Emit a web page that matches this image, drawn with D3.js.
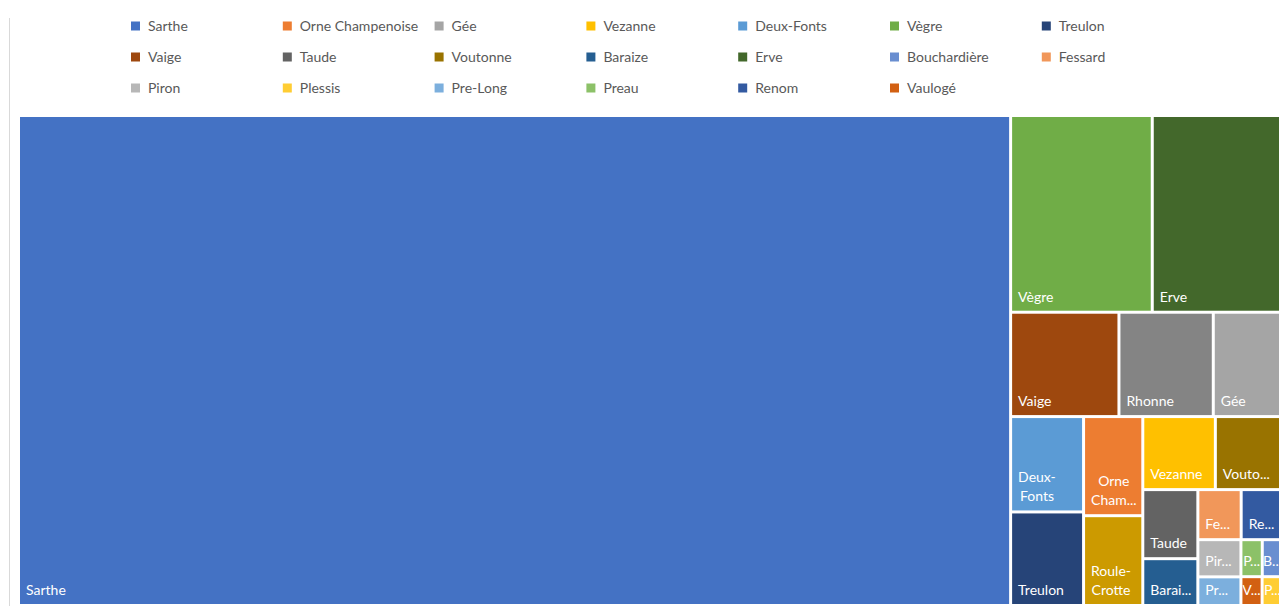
<!DOCTYPE html>
<html>
<head>
<meta charset="utf-8">
<script src="https://cdn.jsdelivr.net/npm/d3@7"></script>
<style>
  html, body { margin: 0; padding: 0; background: #ffffff; overflow: hidden; }
  svg { display: block; font-family: Lato, "Open Sans", sans-serif; }
</style>
</head>
<body>
<svg id="chart" width="1279" height="606"></svg>
<script>
// River basins and their sizes
const categories = ["Sarthe", "Orne Champenoise", "Gée", "Vezanne", "Deux-Fonts", "Vègre", "Treulon",
  "Vaige", "Taude", "Voutonne", "Baraize", "Erve", "Bouchardière", "Fessard", "Piron", "Plessis",
  "Pre-Long", "Preau", "Renom", "Vaulogé", "Rhonne", "Roule-Crotte"];
const values = [4861.78, 58.71, 72.56, 53.00, 69.57, 278.67, 68.26,
  113.07, 38.03, 49.26, 25.78, 256.82, 7.60, 21.69, 16.02, 5.97,
  12.34, 7.90, 20.84, 6.10, 98.45, 53.20];
const colors = ["#4472C4", "#ED7D31", "#A5A5A5", "#FFC000", "#5B9BD5", "#70AD47", "#264478",
  "#9E480E", "#636363", "#997300", "#255E91", "#43682B", "#698ED0", "#F1975A", "#B7B7B7", "#FFCD33",
  "#7CAFDD", "#8CC168", "#335AA1", "#D26012", "#848484", "#CC9A00"];
const legendItems = ["Sarthe", "Orne Champenoise", "Gée", "Vezanne", "Deux-Fonts", "Vègre", "Treulon",
  "Vaige", "Taude", "Voutonne", "Baraize", "Erve", "Bouchardière", "Fessard",
  "Piron", "Plessis", "Pre-Long", "Preau", "Renom", "Vaulogé"];

const svg = d3.select("#chart");
const color = d3.scaleOrdinal().domain(categories).range(colors);

// Chart frame edge
svg.append("line")
  .attr("x1", 9.5).attr("x2", 9.5).attr("y1", 18).attr("y2", 606)
  .attr("stroke", "#d9d9d9").attr("stroke-width", 1);

// Legend: 7 columns
const legendCols = 7, colW = 151.8, rowH = 31;
const legend = svg.append("g").attr("transform", "translate(131,26)");
const li = legend.selectAll("g").data(legendItems).join("g")
  .attr("transform", (d, i) => `translate(${(i % legendCols) * colW},${Math.floor(i / legendCols) * rowH})`);
li.append("rect").attr("x", 0).attr("y", -4.5).attr("width", 9).attr("height", 9)
  .attr("fill", d => color(d));
li.append("text").attr("x", 17).attr("dy", "0.35em")
  .attr("font-size", 14).attr("fill", "#595959").text(d => d);

// Squarified tiling with an adjustable target aspect ratio
function squarify(ratio) {
  return function (parent, x0, y0, x1, y1) {
    const nodes = parent.children, n = nodes.length;
    let value = parent.value, i0 = 0, i1 = 0;
    while (i0 < n) {
      const dx = x1 - x0, dy = y1 - y0;
      let sumValue;
      do sumValue = nodes[i1++].value; while (!sumValue && i1 < n);
      let minValue = sumValue, maxValue = sumValue;
      const alpha = Math.max(dy / dx, dx / dy) / (value * ratio);
      let beta = sumValue * sumValue * alpha;
      let minRatio = Math.max(maxValue / beta, beta / minValue);
      for (; i1 < n; ++i1) {
        const v = nodes[i1].value;
        sumValue += v;
        if (v < minValue) minValue = v;
        if (v > maxValue) maxValue = v;
        beta = sumValue * sumValue * alpha;
        const newRatio = Math.max(maxValue / beta, beta / minValue);
        if (newRatio > minRatio) { sumValue -= v; break; }
        minRatio = newRatio;
      }
      const row = { value: sumValue, children: nodes.slice(i0, i1) };
      if (dx < dy) d3.treemapDice(row, x0, y0, x1, value ? (y0 += dy * sumValue / value) : y1);
      else d3.treemapSlice(row, x0, y0, value ? (x0 += dx * sumValue / value) : x1, y1);
      value -= sumValue;
      i0 = i1;
    }
  };
}

const root = d3.hierarchy({ children: categories.map((name, i) => ({ name, value: values[i] })) })
  .sum(d => d.value || 0)
  .sort((a, b) => b.value - a.value);

d3.treemap()
  .tile(squarify(0.912))
  .size([1261.3, 487])
  .paddingInner(3)
  .paddingOuter(0)(root);

const plot = svg.append("g").attr("transform", "translate(20,117)");
const leaves = root.leaves();

const cell = plot.selectAll("g.cell").data(leaves).join("g").attr("class", "cell");
cell.append("clipPath").attr("id", (d, i) => "clip-" + i)
  .append("rect")
  .attr("x", d => d.x0).attr("y", d => d.y0)
  .attr("width", d => d.x1 - d.x0).attr("height", d => d.y1 - d.y0);
cell.append("rect")
  .attr("x", d => d.x0).attr("y", d => d.y0)
  .attr("width", d => d.x1 - d.x0).attr("height", d => d.y1 - d.y0)
  .attr("fill", d => color(d.data.name));

// Labels: bottom-left, wrapped at spaces/hyphens, truncated with "..."
const fontSize = 14, padX = 6, padRight = 3.8, padBottom = 9, lineH = 19;
const meas = svg.append("text").attr("font-size", fontSize).attr("visibility", "hidden");
const measure = s => { meas.text(s); return meas.node().getComputedTextLength(); };
const fit = (s, avail) => {
  if (measure(s) <= avail) return s;
  for (let k = s.length - 1; k >= 1; k--) {
    const t = s.slice(0, k).trimEnd() + "...";
    if (measure(t) <= avail || k === 1) return t;
  }
  return s;
};

cell.each(function (d, i) {
  const w = d.x1 - d.x0, h = d.y1 - d.y0, avail = w - padX - padRight;
  const name = d.data.name;
  let lines;
  if (measure(name) <= avail) lines = [name];
  else {
    const tokens = name.split(/(?<=[- ])/);
    const maxLines = Math.floor((h - padBottom) / lineH);
    if (tokens.length > 1 && tokens.length <= maxLines) lines = tokens.map(t => fit(t.trim(), avail));
    else lines = [fit(name, avail)];
  }
  const widths = lines.map(measure);
  const blockW = Math.max(...widths);
  const bx = blockW <= avail ? d.x0 + padX : d.x0 + (w - blockW) / 2;
  const g = d3.select(this).append("g").attr("clip-path", `url(#clip-${i})`);
  lines.forEach((ln, j) => {
    g.append("text")
      .attr("x", bx + (blockW - widths[j]) / 2)
      .attr("y", d.y1 - padBottom - (lines.length - 1 - j) * lineH)
      .attr("font-size", fontSize).attr("fill", "#ffffff")
      .text(ln);
  });
});
meas.remove();
</script>
</body>
</html>
